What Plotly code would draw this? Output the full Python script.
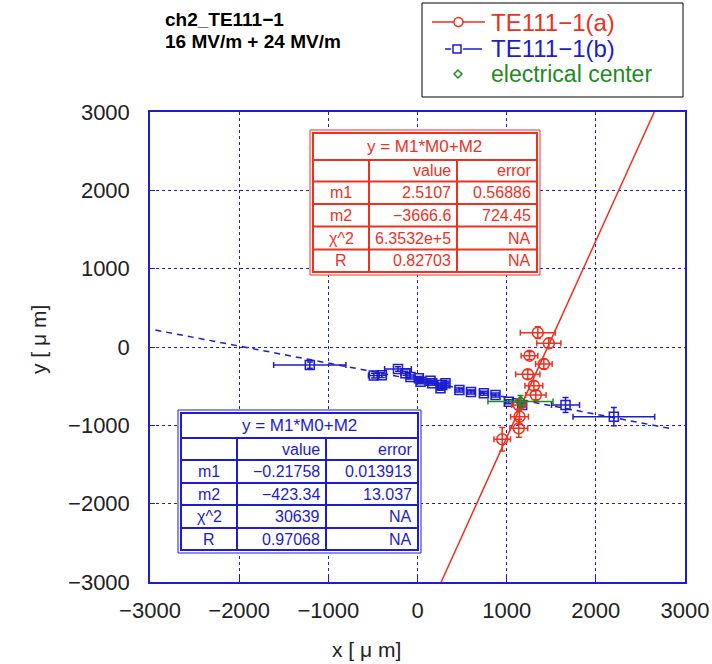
import plotly.graph_objects as go

# ---------------- data ----------------
red_x = [1349, 1473, 1256, 1417, 1237, 1305, 1327, 1136, 1144, 1136, 950]
red_y = [183, 47, -111, -217, -349, -494, -613, -740, -889, -1038, -1179]
red_xerr = [196, 135, 93, 93, 136, 100, 115, 80, 100, 100, 93]
red_yerr = [75, 60, 50, 60, 60, 60, 60, 80, 100, 115, 150]

blue_x = [-1208, -490, -400, -219, -135, -79, 15, 34, 146, 165, 258, 277, 314,
          470, 600, 744, 875, 1024, 1174, 1660, 2202]
blue_y = [-230, -365, -360, -281, -336, -383, -400, -443, -430, -464, -527, -485, -464,
          -549, -575, -591, -613, -698, -740, -740, -889]
blue_xerr = [405, 60, 50, 150, 50, 40, 40, 40, 40, 40, 40, 40, 40,
             40, 40, 40, 40, 40, 40, 157, 458]
blue_yerr = [40, 30, 30, 30, 25, 25, 25, 25, 25, 25, 25, 25, 25,
             25, 25, 25, 25, 25, 25, 96, 117]

center_x = [1155]
center_y = [-695]
center_xerr = [365]
center_yerr = [77]

fit_a_m1, fit_a_m2 = 2.5107, -3666.6
fit_b_m1, fit_b_m2 = -0.21758, -423.34
fit_b_xrange = [-2940, 2860]

series_names = ["TE111\u22121(a)", "TE111\u22121(b)", "electrical center"]
title_lines = ["ch2_TE111\u22121", "16 MV/m + 24 MV/m"]

row_labels = ["m1", "m2", "\u03c7^2", "R"]
table_a_values = ["2.5107", "\u22123666.6", "6.3532e+5", "0.82703"]
table_a_errors = ["0.56886", "724.45", "NA", "NA"]
table_b_values = ["\u22120.21758", "\u2212423.34", "30639", "0.97068"]
table_b_errors = ["0.013913", "13.037", "NA", "NA"]
table_title = "y = M1*M0+M2"

ticks = [-3000, -2000, -1000, 0, 1000, 2000, 3000]

# ---------------- style ----------------
RED = "#f0301e"
BLUE = "#1c1cd0"
GREEN = "#1e8c1e"
FONT = "Liberation Sans"

W, H = 712, 664
L, R_, T, B = 150, 685, 112, 582


def px_x(p):
    return (p - L) / (R_ - L)


def px_y(p):
    return (B - p) / (B - T)


fig = go.Figure()

# fit lines
ya = [-3000, 3000]
xa = [(v - fit_a_m2) / fit_a_m1 for v in ya]
fig.add_trace(go.Scatter(x=xa, y=ya, mode="lines", line=dict(color=RED, width=1.5),
                         showlegend=False, hoverinfo="skip"))
yb = [fit_b_m1 * v + fit_b_m2 for v in fit_b_xrange]
fig.add_trace(go.Scatter(x=fit_b_xrange, y=yb, mode="lines",
                         line=dict(color=BLUE, width=1.5, dash="6px,5px"),
                         showlegend=False, hoverinfo="skip"))

# data
fig.add_trace(go.Scatter(
    x=blue_x, y=blue_y, mode="markers", name=series_names[1],
    marker=dict(symbol="square-open", size=9, color=BLUE, line=dict(width=1.5)),
    error_x=dict(type="data", array=blue_xerr, color=BLUE, thickness=1.5, width=3),
    error_y=dict(type="data", array=blue_yerr, color=BLUE, thickness=1.5, width=3),
    showlegend=False))
fig.add_trace(go.Scatter(
    x=red_x, y=red_y, mode="markers", name=series_names[0],
    marker=dict(symbol="circle-open", size=11, color=RED, line=dict(width=1.5)),
    error_x=dict(type="data", array=red_xerr, color=RED, thickness=1.5, width=3),
    error_y=dict(type="data", array=red_yerr, color=RED, thickness=1.5, width=3),
    showlegend=False))
fig.add_trace(go.Scatter(
    x=center_x, y=center_y, mode="markers", name=series_names[2],
    marker=dict(symbol="diamond-open", size=8, color=GREEN, line=dict(width=1.5)),
    error_x=dict(type="data", array=center_xerr, color=GREEN, thickness=1.5, width=3),
    error_y=dict(type="data", array=center_yerr, color=GREEN, thickness=1.5, width=3),
    showlegend=False))

shapes = []
annotations = []


def add_table(color, outer, rows, cols, values, errors):
    x0, y0, x1, y1 = outer
    shapes.append(dict(type="rect", xref="paper", yref="paper",
                       x0=px_x(x0), x1=px_x(x1), y0=px_y(y0), y1=px_y(y1),
                       line=dict(color=color, width=1), fillcolor="white", layer="above"))
    c0, c1, c2, c3 = cols
    shapes.append(dict(type="rect", xref="paper", yref="paper",
                       x0=px_x(c0), x1=px_x(c3), y0=px_y(rows[0]), y1=px_y(rows[-1]),
                       line=dict(color=color, width=2), layer="above"))
    for r in rows[1:-1]:
        shapes.append(dict(type="line", xref="paper", yref="paper",
                           x0=px_x(c0), x1=px_x(c3), y0=px_y(r), y1=px_y(r),
                           line=dict(color=color, width=2), layer="above"))
    for c in (c1, c2):
        shapes.append(dict(type="line", xref="paper", yref="paper",
                           x0=px_x(c), x1=px_x(c), y0=px_y(rows[1]), y1=px_y(rows[-1]),
                           line=dict(color=color, width=2), layer="above"))
    f = dict(family=FONT, size=16, color=color)
    annotations.append(dict(xref="paper", yref="paper", x=px_x((c0 + c3) / 2),
                            y=px_y((rows[0] + rows[1]) / 2), text=table_title,
                            showarrow=False, font=dict(family=FONT, size=17, color=color),
                            xanchor="center", yanchor="middle"))
    hy = px_y((rows[1] + rows[2]) / 2)
    annotations.append(dict(xref="paper", yref="paper", x=px_x(c2 - 4), y=hy, text="value",
                            showarrow=False, font=f, xanchor="right", yanchor="middle"))
    annotations.append(dict(xref="paper", yref="paper", x=px_x(c3 - 4), y=hy, text="error",
                            showarrow=False, font=f, xanchor="right", yanchor="middle"))
    for i, lab in enumerate(row_labels):
        yy = px_y((rows[i + 2] + rows[i + 3]) / 2)
        annotations.append(dict(xref="paper", yref="paper", x=px_x((c0 + c1) / 2), y=yy,
                                text=lab, showarrow=False, font=f,
                                xanchor="center", yanchor="middle"))
        annotations.append(dict(xref="paper", yref="paper", x=px_x(c2 - 4), y=yy,
                                text=values[i], showarrow=False, font=f,
                                xanchor="right", yanchor="middle"))
        annotations.append(dict(xref="paper", yref="paper", x=px_x(c3 - 4), y=yy,
                                text=errors[i], showarrow=False, font=f,
                                xanchor="right", yanchor="middle"))


add_table(RED, (310, 130, 540, 275), [133, 160, 181.5, 204, 226.5, 249.5, 272],
          (313, 369, 457, 537), table_a_values, table_a_errors)
add_table(BLUE, (178, 410, 421, 553), [413, 438, 460, 483, 505, 528, 550],
          (181, 237, 326, 418), table_b_values, table_b_errors)


# ---- custom legend box ----
def pshape(**kw):
    d = dict(xref="paper", yref="paper", layer="above")
    d.update(kw)
    shapes.append(d)


pshape(type="rect", x0=px_x(422), x1=px_x(683), y0=px_y(3), y1=px_y(97),
       line=dict(color="black", width=1), fillcolor="white")
# row 1: red solid line + circle
pshape(type="line", x0=px_x(432), x1=px_x(485), y0=px_y(22), y1=px_y(22),
       line=dict(color=RED, width=1.5))
pshape(type="circle", x0=px_x(454), x1=px_x(463), y0=px_y(17.5), y1=px_y(26.5),
       line=dict(color=RED, width=1.5), fillcolor="white")
# row 2: blue dashed line + square
pshape(type="line", x0=px_x(445), x1=px_x(451), y0=px_y(49), y1=px_y(49),
       line=dict(color=BLUE, width=1.5))
pshape(type="line", x0=px_x(463), x1=px_x(482), y0=px_y(49), y1=px_y(49),
       line=dict(color=BLUE, width=1.5))
pshape(type="rect", x0=px_x(453), x1=px_x(461), y0=px_y(45), y1=px_y(53),
       line=dict(color=BLUE, width=1.5), fillcolor="white")
# row 3: green diamond
cx, cy = 458, 74
pshape(type="path",
       path=(f"M {px_x(cx-4)} {px_y(cy)} L {px_x(cx)} {px_y(cy-4)} "
             f"L {px_x(cx+4)} {px_y(cy)} L {px_x(cx)} {px_y(cy+4)} Z"),
       line=dict(color=GREEN, width=1.5))
for name, col, yy, fs in zip(series_names, [RED, BLUE, GREEN], [22, 48, 74], [24, 24, 23]):
    annotations.append(dict(xref="paper", yref="paper", x=px_x(489), y=px_y(yy),
                            text=name, showarrow=False, xanchor="left", yanchor="middle",
                            font=dict(family=FONT, size=fs, color=col)))

for line, yy in zip(title_lines, [20, 42]):
    annotations.append(dict(xref="paper", yref="paper", x=px_x(163), y=px_y(yy),
                            text=f"<b>{line}</b>", showarrow=False,
                            xanchor="left", yanchor="middle",
                            font=dict(family=FONT, size=19, color="black")))
annotations.append(dict(xref="paper", yref="paper", x=px_x(38), y=px_y(340),
                        text="y [ \u03bc m]", textangle=-90, showarrow=False,
                        xanchor="center", yanchor="middle",
                        font=dict(family=FONT, size=21, color="#222")))
annotations.append(dict(xref="paper", yref="paper", x=px_x(366), y=px_y(649),
                        text="x [ \u03bc m]", showarrow=False,
                        xanchor="center", yanchor="middle",
                        font=dict(family=FONT, size=21, color="#222")))

axis_common = dict(
    showline=True, mirror=True, linecolor=BLUE, linewidth=1.5,
    showgrid=True, gridcolor=BLUE, griddash="dot", gridwidth=1,
    zeroline=False, ticks="inside", ticklen=5, tickcolor=BLUE, tickwidth=1,
    tickvals=ticks, tickfont=dict(family=FONT, size=22, color="#222"),
    range=[-3000, 3000], fixedrange=True, automargin=False,
)

fig.update_layout(
    width=W, height=H, autosize=False,
    margin=dict(l=L, r=W - R_, t=T, b=H - B, pad=0, autoexpand=False),
    paper_bgcolor="white", plot_bgcolor="white",
    xaxis=dict(**axis_common, ticklabelstandoff=8),
    yaxis=dict(**axis_common, ticklabelstandoff=14),
    shapes=shapes, annotations=annotations,
    showlegend=False,
)

fig.write_html("out.html", config={"displayModeBar": False},
               post_script="document.body.style.margin='0px';document.body.style.overflow='hidden';")
